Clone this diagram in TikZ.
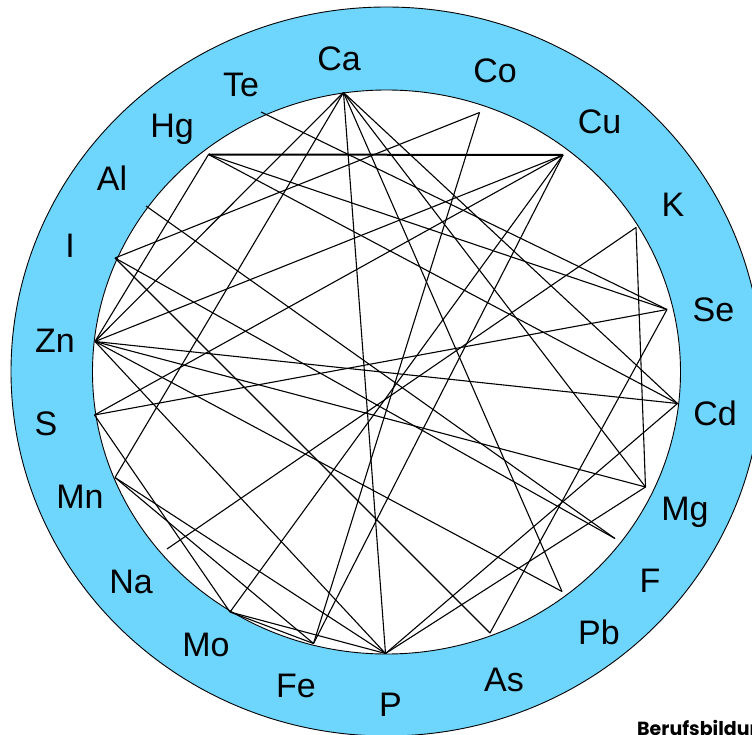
\documentclass[tikz,border=0pt]{standalone}
\usepackage{fontspec}
\setmainfont{Liberation Sans}
\newfontfamily\brandfont{Poppins}
\definecolor{ringblue}{RGB}{110,213,253}
\begin{document}
\begin{tikzpicture}[x=1pt,y=-1pt,
  lbl/.style={anchor=base,font=\fontsize{34}{34}\selectfont,inner sep=0pt},
  link/.style={draw=black,line width=1.1pt},
  thicklink/.style={draw=black,line width=2pt}]
\useasboundingbox (0,0) rectangle (752,735);
\clip (0,0) rectangle (752,735);
% rings
\fill[ringblue,draw=black,line width=0.9pt] (386.5,371.5) ellipse [x radius=375.5,y radius=364.5];
\fill[white,draw=black,line width=0.9pt] (386.5,372) ellipse [x radius=294,y radius=282];
% points
\coordinate (pCa) at (343.5,92.5);
\coordinate (pTe) at (261,112);
\coordinate (pCo) at (479.5,112.5);
\coordinate (pHg) at (208.5,154.5);
\coordinate (pCu) at (563,155);
\coordinate (pAl) at (146,206);
\coordinate (pK)  at (636,227.5);
\coordinate (pI)  at (115,258);
\coordinate (pSe) at (667,309.5);
\coordinate (pZn) at (95,341.5);
\coordinate (pCd) at (677.5,403.5);
\coordinate (pS)  at (94.5,415);
\coordinate (pMn) at (115,477.5);
\coordinate (pMg) at (645.5,487);
\coordinate (pF)  at (615,538.5);
\coordinate (pNa) at (167,549);
\coordinate (pPb) at (562,591.5);
\coordinate (pMo) at (230,612);
\coordinate (pAs) at (490,633);
\coordinate (pFe) at (313.5,643.5);
\coordinate (pP)  at (385.5,653.5);
% labels
\node[lbl] (lCa) at (339,70.7) {Ca};
\node[lbl] (lTe) at (241,96.7) {Te};
\node[lbl] (lCo) at (495,82.7) {Co};
\node[lbl] (lHg) at (172,138) {Hg};
\node[lbl] (lCu) at (599.5,134) {Cu};
\node[lbl] (lAl) at (112,190.7) {Al};
\node[lbl] (lK)  at (673,216.7) {K};
\node[lbl] (lI)  at (70,258) {I};
\node[lbl] (lSe) at (713.5,321) {Se};
\node[lbl] (lZn) at (55,352.7) {Zn};
\node[lbl] (lCd) at (715,425.7) {Cd};
\node[lbl] (lS)  at (46,435) {S};
\node[lbl] (lMg) at (685,520) {Mg};
\node[lbl] (lMn) at (80,508) {Mn};
\node[lbl] (lF)  at (650,592) {F};
\node[lbl] (lNa) at (131,593) {Na};
\node[lbl] (lPb) at (599,644) {Pb};
\node[lbl] (lMo) at (206,656) {Mo};
\node[lbl] (lAs) at (504,691) {As};
\node[lbl] (lFe) at (296,697) {Fe};
\node[lbl] (lP)  at (390.5,716.7) {P};
\node[anchor=base west,inner sep=0pt,font=\brandfont\bfseries\fontsize{19}{19}\selectfont] (brand) at (637,735) {Berufsbildung};
% connections
\draw[thicklink] (pHg) -- (pCu);
\draw[link] (pTe) -- (pSe);
\draw[link] (pHg) -- (pSe);
\draw[link] (pS) -- (pSe);
\draw[link] (pAs) -- (pSe);
\draw[link] (pK) -- (pNa);
\draw[link] (pK) -- (pMg);
\draw[link] (pCa) -- (pCd);
\draw[link] (pHg) -- (pCd);
\draw[link] (pZn) -- (pCd);
\draw[link] (pP) -- (pCd);
\draw[link] (pP) -- (pMg);
\draw[link] (pHg) -- (pZn);
\draw[link] (pCa) -- (pZn);
\draw[link] (pCa) -- (pMn);
\draw[link] (pCa) -- (pP);
\draw[link] (pCa) -- (pPb);
\draw[link] (pCa) -- (pMg);
\draw[link] (pI) -- (pCo);
\draw[link] (pCo) -- (pFe);
\draw[link] (pI) -- (pF);
\draw[link] (pAl) -- (pF);
\draw[link] (pI) -- (pAs);
\draw[link] (pCu) -- (pZn);
\draw[link] (pCu) -- (pS);
\draw[link] (pCu) -- (pMo);
\draw[link] (pCu) -- (pFe);
\draw[link] (pZn) -- (pMg);
\draw[link] (pZn) -- (pPb);
\draw[link] (pZn) -- (pP);
\draw[link] (pS) -- (pMo);
\draw[link] (pMn) -- (pFe);
\draw[link] (pMn) -- (pP);
\draw[link] (pMo) -- (pP);
\draw[link] (pMo) -- (pFe);
\end{tikzpicture}
\end{document}
